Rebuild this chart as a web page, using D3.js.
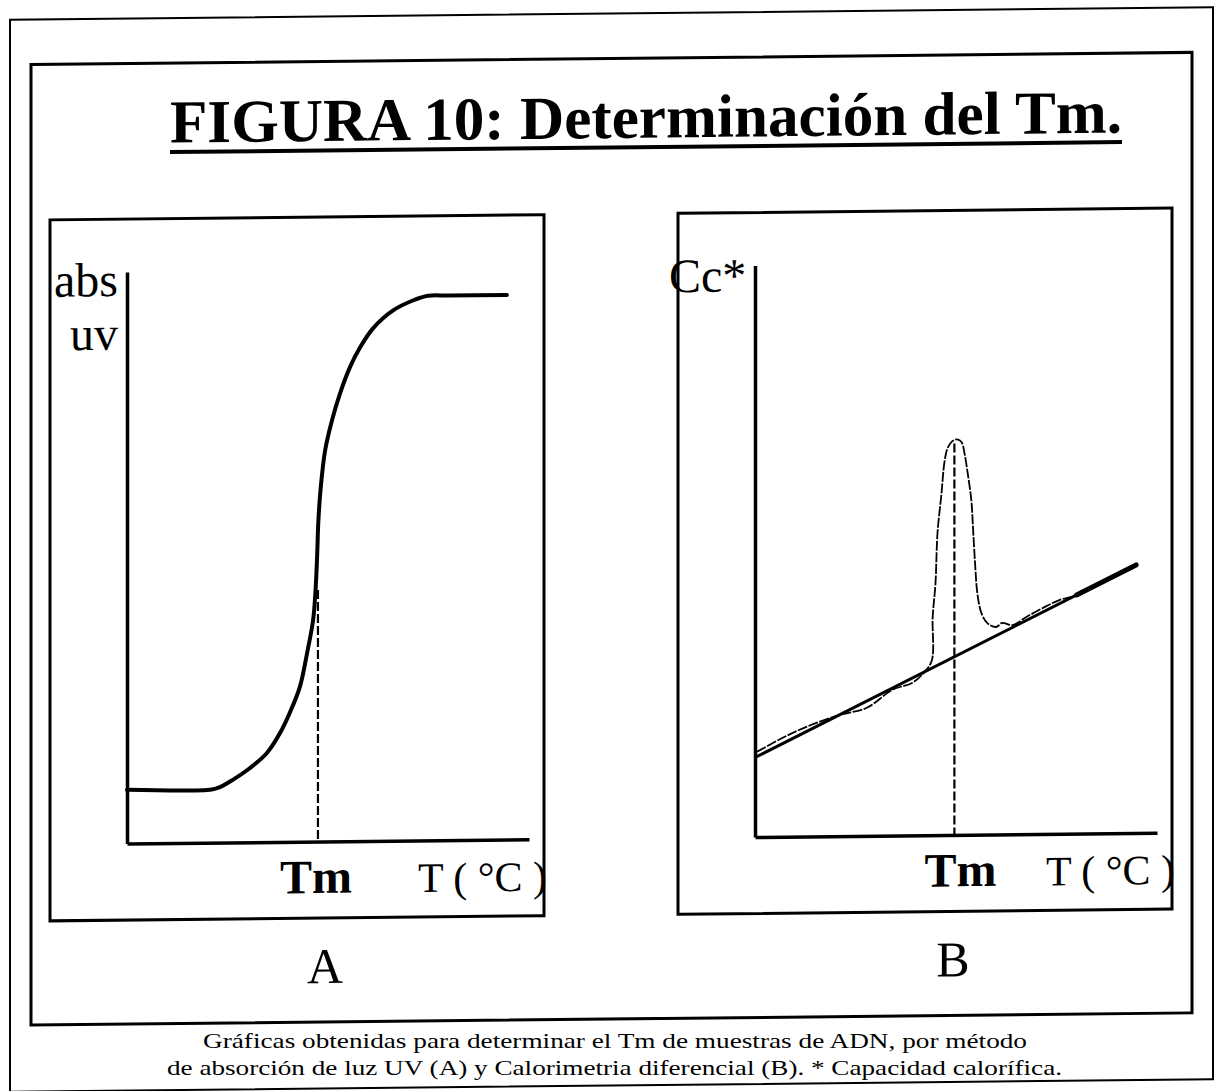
<!DOCTYPE html>
<html>
<head>
<meta charset="utf-8">
<script src="https://cdn.jsdelivr.net/npm/d3@7"></script>
<style>
body{margin:0;background:#fff;}
</style>
</head>
<body>
<div id="chart"></div>
<script>
// curva A: absorbancia uv vs temperatura (unidades relativas 0-100)
var tempA = [0, 21.1, 23.1, 26.4, 30.6, 34.8, 38.1, 40.5, 43.0, 44.8, 46.3, 46.9, 47.3, 47.6, 48.2, 49.3, 51.0, 53.0, 55.5, 58.0, 61.2, 66.2, 71.1, 74.9, 80.0, 94.5];
var absA  = [9.4, 9.3, 9.7, 11.0, 13.0, 15.6, 19.1, 22.6, 27.1, 33.0, 38.8, 44.0, 50.0, 56.0, 62.0, 68.5, 73.7, 78.4, 83.0, 86.4, 89.7, 92.8, 94.5, 95.3, 95.3, 95.3];
var tmA = 47.5;
var tmTopA = 44;

// curva B: capacidad calorifica (calorimetria diferencial)
var tempB = [0.5, 6.9, 12.9, 21.1, 27.8, 34.2, 39.2, 42.2, 44.0, 44.2, 44.9, 45.4, 46.4, 47.1, 47.9, 49.1, 50.3, 51.4, 52.1, 52.9, 53.8, 54.3, 54.8, 55.3, 56.3, 57.8, 60.0, 61.5, 64.0, 67.5, 71.5, 75.7, 79.9, 81.4];
var cpB   = [14.9, 17.3, 19.2, 21.2, 22.4, 25.5, 26.7, 28.6, 30.6, 38.1, 44.1, 52.9, 59.8, 65.1, 67.7, 68.9, 69.2, 68.7, 66.8, 63.3, 58.6, 52.8, 46.8, 42.3, 38.8, 37.0, 36.3, 37.0, 36.6, 38.0, 39.5, 40.9, 41.7, 42.6];
var baseLineT  = [0, 94.8];
var baseLineCp = [13.9, 46.9];
var tmB = 49.6;
var tmTopB = 68.5;

var titleText = "FIGURA 10: Determinación del Tm.";
var captionLines = ["Gráficas obtenidas para determinar el Tm de muestras de ADN, por método",
                    "de absorción de luz UV (A) y Calorimetria diferencial (B). * Capacidad calorífica."];
var panelLetters = ["A", "B"];
var yLabelsA = ["abs", "uv"];
var yLabelB = "Cc*";
var xLabel = "T ( °C )";
var tmLabel = "Tm";

var W = 1220, H = 1091;
var serif = "'Liberation Serif', 'Times New Roman', serif";

var svg = d3.select("#chart")
	.append("svg")
	.attr("width", W)
	.attr("height", H);

svg.append("rect")
	.attr("width", W)
	.attr("height", H)
	.attr("fill", "#fff");

// el escaneo esta un poco torcido
var g = svg.append("g")
	.attr("transform", "matrix(1,-0.0105,0,1,0,6.4)");

// marcos
g.append("rect")
	.attr("x", 10).attr("y", 13.5)
	.attr("width", 1203).attr("height", 1072)
	.attr("fill", "none").attr("stroke", "#000").attr("stroke-width", 2);

g.append("rect")
	.attr("x", 31).attr("y", 58.5)
	.attr("width", 1161).attr("height", 960.5)
	.attr("fill", "none").attr("stroke", "#000").attr("stroke-width", 3);

// titulo
g.append("text")
	.attr("x", 170)
	.attr("y", 138)
	.attr("textLength", 952)
	.attr("lengthAdjust", "spacingAndGlyphs")
	.style("font-family", serif)
	.style("font-weight", "bold")
	.style("font-size", 61 + "px")
	.attr("fill", "#000")
	.text(titleText);

g.append("line")
	.attr("x1", 170).attr("x2", 1122)
	.attr("y1", 147.5).attr("y2", 147.5)
	.attr("stroke", "#000").attr("stroke-width", 4);

drawPanel(50, 0);
drawPanel(678, 1);

// leyenda inferior (sin inclinar, para que las lineas no se pisen)
captionLines.forEach(function(t, i){
	svg.append("text")
		.attr("x", i == 0 ? 203 : 167)
		.attr("y", i == 0 ? 1048 : 1075)
		.attr("textLength", i == 0 ? 824 : 895)
		.attr("lengthAdjust", "spacingAndGlyphs")
		.style("font-family", serif)
		.style("font-size", 22 + "px")
		.attr("fill", "#000")
		.text(t);
});

/***************************************************************************************/
function drawPanel(bx, idx){
	var top = 214, bottom = 915;
	var x0 = bx + 77, x1 = bx + 479;
	var yAxis0 = 838.5, yAxis1 = 267;

	var x = d3.scaleLinear().domain([0, 100]).range([x0, x1]);
	var y = d3.scaleLinear().domain([0, 100]).range([yAxis0, yAxis1]);

	g.append("rect")
		.attr("x", bx).attr("y", top)
		.attr("width", 494).attr("height", bottom - top)
		.attr("fill", "none").attr("stroke", "#000").attr("stroke-width", 3);

	var ax = g.append("g")
		.attr("transform", "translate(0," + yAxis0 + ")")
		.call(d3.axisBottom(x).ticks(0).tickSizeOuter(0));
	var ay = g.append("g")
		.attr("transform", "translate(" + x0 + ",0)")
		.call(d3.axisLeft(y).ticks(0).tickSizeOuter(0));
	[ax, ay].forEach(function(a){
		a.select(".domain").attr("stroke", "#000").attr("stroke-width", 3.5);
	});

	var tm = idx == 0 ? tmA : tmB;
	var tmTop = idx == 0 ? tmTopA : tmTopB;

	// linea de Tm
	g.append("line")
		.attr("x1", x(tm)).attr("x2", x(tm))
		.attr("y1", y(tmTop)).attr("y2", y(0))
		.attr("stroke", "#000")
		.attr("stroke-width", 2.2)
		.attr("stroke-dasharray", "9,3");

	if(idx == 0){
		var lineA = d3.line()
			.x(function(d){ return x(d[0]); })
			.y(function(d){ return y(d[1]); })
			.curve(d3.curveCatmullRom.alpha(0.5));
		g.append("path")
			.datum(d3.zip(tempA, absA))
			.attr("d", lineA)
			.attr("fill", "none")
			.attr("stroke", "#000")
			.attr("stroke-width", 4)
			.attr("stroke-linecap", "round");

		yLabelsA.forEach(function(t, i){
			g.append("text")
				.attr("text-anchor", "end")
				.attr("x", bx + 68)
				.attr("y", i == 0 ? 291 : 344.5)
				.style("font-family", serif)
				.style("font-size", 48 + "px")
				.attr("fill", "#000")
				.text(t);
		});
	}
	else{
		var lineB = d3.line()
			.x(function(d){ return x(d[0]); })
			.y(function(d){ return y(d[1]); })
			.curve(d3.curveCatmullRom.alpha(0.5));
		g.append("path")
			.datum(d3.zip(tempB, cpB))
			.attr("d", lineB)
			.attr("fill", "none")
			.attr("stroke", "#000")
			.attr("stroke-width", 1.8)
			.attr("stroke-dasharray", "10,1.5");

		var base = d3.zip(baseLineT, baseLineCp);
		g.append("path")
			.datum(base)
			.attr("d", d3.line().x(function(d){ return x(d[0]); }).y(function(d){ return y(d[1]); }))
			.attr("stroke", "#000")
			.attr("stroke-width", 3);

		// tramo final mas grueso
		var bl = d3.scaleLinear().domain(baseLineT).range(baseLineCp);
		g.append("line")
			.attr("x1", x(80)).attr("y1", y(bl(80)))
			.attr("x2", x(baseLineT[1])).attr("y2", y(baseLineCp[1]))
			.attr("stroke", "#000")
			.attr("stroke-width", 5)
			.attr("stroke-linecap", "round");

		g.append("text")
			.attr("x", bx - 9)
			.attr("y", 293)
			.style("font-family", serif)
			.style("font-size", 48 + "px")
			.attr("fill", "#000")
			.text(yLabelB);
	}

	// etiquetas del eje x
	g.append("text")
		.attr("text-anchor", "middle")
		.attr("x", idx == 0 ? x(tm) - 2 : x(tm) + 6)
		.attr("y", 890)
		.style("font-family", serif)
		.style("font-weight", "bold")
		.style("font-size", 48 + "px")
		.attr("fill", "#000")
		.text(tmLabel);

	g.append("text")
		.attr("x", bx + 368)
		.attr("y", 890)
		.attr("textLength", 129)
		.attr("lengthAdjust", "spacingAndGlyphs")
		.style("font-family", serif)
		.style("font-size", 42 + "px")
		.attr("fill", "#000")
		.text(xLabel);

	g.append("text")
		.attr("text-anchor", "middle")
		.attr("x", bx + 275)
		.attr("y", 980)
		.style("font-family", serif)
		.style("font-size", 50 + "px")
		.attr("fill", "#000")
		.text(panelLetters[idx]);
};
</script>
</body>
</html>
